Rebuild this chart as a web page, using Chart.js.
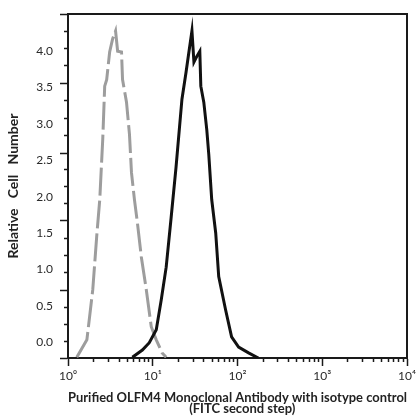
<!DOCTYPE html>
<html>
<head>
<meta charset="utf-8">
<script src="https://cdn.jsdelivr.net/npm/chart.js@4.4.0/dist/chart.umd.min.js"></script>
<style>
  html, body { margin: 0; padding: 0; background: #fff; }
  #wrap { width: 419px; height: 418px; }
</style>
</head>
<body>
<div id="wrap"><canvas id="histChart" width="419" height="418"></canvas></div>
<script>
// isotype control (grey dashed)
const isoX = [1.27, 1.67, 1.96, 2.18, 2.37, 2.50, 2.57, 2.71, 2.86, 3.10, 3.36, 3.64, 3.85, 4.28, 4.40, 4.90, 5.31, 5.61, 6.08, 6.59, 7.33, 8.39, 9.60, 11.0, 12.9, 14.4];
const isoY = [-0.21, 0.03, 0.72, 1.45, 1.96, 2.51, 2.79, 3.52, 3.61, 3.99, 4.17, 4.28, 4.00, 3.99, 3.61, 3.30, 2.86, 2.33, 1.96, 1.64, 1.17, 0.72, 0.21, 0.03, -0.15, -0.21];

// OLFM4 antibody (black)
const olfmX = [5.75, 7.54, 9.10, 11.0, 12.6, 14.4, 16.5, 18.8, 22.1, 24.7, 26.7, 29.0, 30.6, 33.1, 35.9, 36.9, 40.0, 43.4, 45.8, 49.6, 55.3, 60.0, 72.4, 85.1, 103, 135, 176];
const olfmY = [-0.21, -0.11, -0.01, 0.17, 0.58, 1.03, 1.72, 2.40, 3.34, 3.71, 3.99, 4.28, 3.85, 3.93, 4.00, 3.52, 3.30, 2.92, 2.58, 1.96, 1.50, 0.90, 0.44, 0.07, -0.07, -0.15, -0.22];

// axes
const xDecades = [1, 10, 100, 1000, 10000];
const xTickLabels = ['10\u2070', '10\u00b9', '10\u00b2', '10\u00b3', '10\u2074'];
const yLabelValues = [0, 0.5, 1, 1.5, 2, 2.5, 3, 3.5, 4];
const yTickLabels = ['0.0', '0.5', '1.0', '1.5', '2.0', '2.5', '3.0', '3.5', '4.0'];
const yLongTicks = [-0.22, 0.71, 1.67, 2.60, 3.56, 4.51];

const Y_MIN = -0.22, Y_MAX = 4.51;
const INK = '#1a1a1a';

function toPoints(xs, ys) {
  return xs.map((x, i) => ({ x: x, y: ys[i] }));
}

// minor log ticks 2..9 within each decade
const xMinor = [];
xDecades.slice(0, -1).forEach(d => {
  for (let k = 2; k <= 9; k++) xMinor.push(d * k);
});

// short y ticks at quarters between the long ones
const yShort = [];
for (let i = 0; i < yLongTicks.length - 1; i++) {
  const step = (yLongTicks[i + 1] - yLongTicks[i]) / 4;
  for (let k = 1; k < 4; k++) yShort.push(yLongTicks[i] + step * k);
}

const ctx = document.getElementById('histChart').getContext('2d');
new Chart(ctx, {
  type: 'line',
  data: {
    datasets: [
      {
        label: 'OLFM4',
        data: toPoints(olfmX, olfmY),
        borderColor: '#111',
        borderWidth: 3,
        pointRadius: 0,
        tension: 0
      },
      {
        label: 'Isotype control',
        data: toPoints(isoX, isoY),
        borderColor: '#9d9d9d',
        borderWidth: 3,
        borderDash: [28, 5],
        pointRadius: 0,
        tension: 0
      }
    ]
  },
  options: {
    responsive: false,
    animation: false,
    devicePixelRatio: 1,
    layout: { padding: { top: 13, right: 8, left: 0, bottom: 0 } },
    plugins: { legend: { display: false }, tooltip: { enabled: false } },
    scales: {
      x: {
        type: 'logarithmic',
        position: 'bottom',
        weight: 1,
        min: 1,
        max: 10000,
        afterBuildTicks: s => { s.ticks = xDecades.map(v => ({ value: v })); },
        afterFit: s => { s.height = 60; },
        grid: { drawOnChartArea: false, tickLength: 8, tickColor: INK, tickWidth: 1.5 },
        border: { color: INK, width: 2 },
        ticks: {
          autoSkip: false, maxRotation: 0, padding: 3,
          color: '#2a2a2a', font: { family: 'Lato', size: 12 },
          callback: v => xTickLabels[xDecades.indexOf(v)]
        },
        title: {
          display: true,
          text: ['Purified OLFM4 Monoclonal Antibody with isotype control', '   (FITC second step)'],
          color: '#222',
          font: { family: 'Lato', size: 13, weight: 'bold', lineHeight: 0.85 },
          padding: { top: 0, bottom: 4 }
        }
      },
      xMinor: {
        type: 'logarithmic',
        position: 'bottom',
        weight: 0,
        min: 1,
        max: 10000,
        afterBuildTicks: s => { s.ticks = xMinor.map(v => ({ value: v })); },
        afterFit: s => { s.height = 0; },
        grid: { drawOnChartArea: false, tickLength: 4, tickColor: INK, tickWidth: 1.5 },
        border: { display: false },
        ticks: { display: false }
      },
      xTop: {
        type: 'logarithmic',
        position: 'top',
        min: 1,
        max: 10000,
        afterFit: s => { s.height = 0; },
        grid: { display: false },
        border: { color: INK, width: 2 },
        ticks: { display: false }
      },
      y: {
        position: 'left',
        weight: 1,
        min: Y_MIN,
        max: Y_MAX,
        afterBuildTicks: s => {
          s.ticks = yLongTicks.concat(yLabelValues).map(v => ({ value: v }));
        },
        afterFit: s => { s.width = 68; },
        grid: {
          drawOnChartArea: false, tickLength: 8, tickWidth: 1.5,
          tickColor: c => yLongTicks.includes(c.tick.value) ? INK : 'rgba(0,0,0,0)'
        },
        border: { color: INK, width: 2 },
        ticks: {
          autoSkip: false, padding: 7,
          color: '#2a2a2a', font: { family: 'Lato', size: 12 },
          callback: v => {
            const i = yLabelValues.indexOf(v);
            return i >= 0 ? yTickLabels[i] : '';
          }
        },
        title: {
          display: true,
          text: 'Relative   Cell   Number',
          color: '#222',
          font: { family: 'Lato', size: 14, weight: 'bold' },
          padding: { top: 5, bottom: 0 }
        }
      },
      yMinor: {
        position: 'left',
        weight: 0,
        min: Y_MIN,
        max: Y_MAX,
        afterBuildTicks: s => { s.ticks = yShort.map(v => ({ value: v })); },
        afterFit: s => { s.width = 0; },
        grid: { drawOnChartArea: false, tickLength: 4, tickColor: INK, tickWidth: 1.5 },
        border: { display: false },
        ticks: { display: false }
      },
      yRight: {
        position: 'right',
        min: Y_MIN,
        max: Y_MAX,
        afterFit: s => { s.width = 0; },
        grid: { display: false },
        border: { color: INK, width: 2 },
        ticks: { display: false }
      }
    }
  }
});
</script>
</body>
</html>
